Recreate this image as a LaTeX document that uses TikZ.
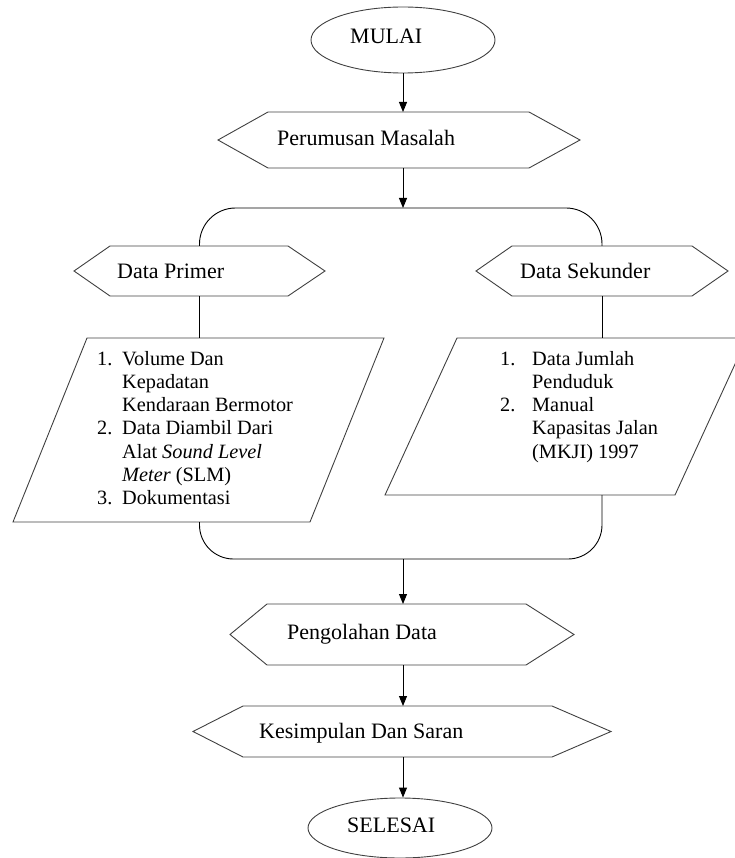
\documentclass[tikz,border=0pt]{standalone}
\usepackage{fontspec}
\setmainfont{Liberation Serif}
\usetikzlibrary{arrows.meta,shapes.geometric}
\newcommand\hexout[3]{\draw[shapeline] (#1.west) -- ([xshift=#2pt]#1.north west) -- ([xshift=-#3pt]#1.north east) -- (#1.east) -- ([xshift=-#3pt]#1.south east) -- ([xshift=#2pt]#1.south west) -- cycle;}
\newcommand\parout[2]{\draw[shapeline] (#1.south west) -- ([xshift=#2pt]#1.north west) -- (#1.north east) -- ([xshift=-#2pt]#1.south east) -- cycle;}
\begin{document}
\begin{tikzpicture}[x=1pt,y=-1pt,
  shapeline/.style={draw=black!75,line width=0.9pt},
  frame/.style={rectangle,inner sep=0pt,outer sep=0pt},
  oval/.style={ellipse,draw=black!75,line width=0.9pt,inner sep=0pt,minimum width=184pt},
  conn/.style={draw=black,line width=0.9pt},
  arr/.style={conn,-{Triangle[length=10pt,width=8pt]}},
  big/.style={anchor=base west,inner sep=0pt,font=\fontsize{22}{24}\selectfont},
  list/.style={anchor=base west,inner sep=0pt,font=\fontsize{20.3}{23.3}\selectfont}]
\useasboundingbox (0,0) rectangle (735,858);
% shapes
\node[oval,minimum height=66pt] (start) at (403,40) {};
\node[frame,minimum width=362pt,minimum height=56pt] (perum) at (399,140) {};
\node[frame,minimum width=251pt,minimum height=50pt] (dprim) at (199.5,271) {};
\node[frame,minimum width=252pt,minimum height=50pt] (dsek) at (602,271) {};
\node[frame,minimum width=371pt,minimum height=184pt] (ppar) at (198.5,430) {};
\node[frame,minimum width=362pt,minimum height=157pt] (spar) at (566,416.5) {};
\node[frame,minimum width=344pt,minimum height=61pt] (olah) at (402,634.5) {};
\node[frame,minimum width=418pt,minimum height=51pt] (kes) at (402,731.5) {};
\node[oval,minimum height=60pt] (fin) at (400,828) {};
\hexout{perum}{50}{51}
\hexout{dprim}{36}{37}
\hexout{dsek}{36}{36}
\hexout{olah}{37}{48}
\hexout{kes}{50}{59}
\parout{ppar}{74}
\parout{spar}{72}
% texts
\node[big] (tstart) at (350,44) {MULAI};
\node[big] (tperum) at (277,146) {Perumusan Masalah};
\node[big] (tdprim) at (117,279) {Data Primer};
\node[big] (tdsek) at (520,279) {Data Sekunder};
\node[list] (tppar) at (97,365) {\begin{tabular}[t]{@{}p{25pt}@{}l@{}}
1. & Volume Dan\\
 & Kepadatan\\
 & Kendaraan Bermotor\\
2. & Data Diambil Dari\\
 & Alat \textit{Sound Level}\\
 & \textit{Meter} (SLM)\\
3. & Dokumentasi
\end{tabular}};
\node[list] (tspar) at (500,365) {\begin{tabular}[t]{@{}p{32pt}@{}l@{}}
1. & Data Jumlah\\
 & Penduduk\\
2. & Manual\\
 & Kapasitas Jalan\\
 & (MKJI) 1997
\end{tabular}};
\node[big] (tolah) at (287,639) {Pengolahan Data};
\node[big] (tkes) at (259,738) {Kesimpulan Dan Saran};
\node[big] (tfin) at (347,832) {SELESAI};
% connectors
\coordinate (split) at (403,208);
\coordinate (join) at (403,559);
\draw[arr] (start.south) -- (start.south |- perum.north);
\draw[arr] (start.south |- perum.south) -- (split);
\draw[conn,rounded corners=36pt] (dprim.north) |- (split) -| (dsek.north);
\draw[conn] (dprim.south) -- (dprim.south |- ppar.north);
\draw[conn] (dsek.south) -- (dsek.south |- spar.north);
\draw[conn,rounded corners=34pt] (dprim.south |- ppar.south) |- (join) -| (dsek.south |- spar.south);
\draw[arr] (join) -- (join |- olah.north);
\draw[arr] (join |- olah.south) -- (join |- kes.north);
\draw[arr] (join |- kes.south) -- (join |- fin.north);
\end{tikzpicture}
\end{document}
